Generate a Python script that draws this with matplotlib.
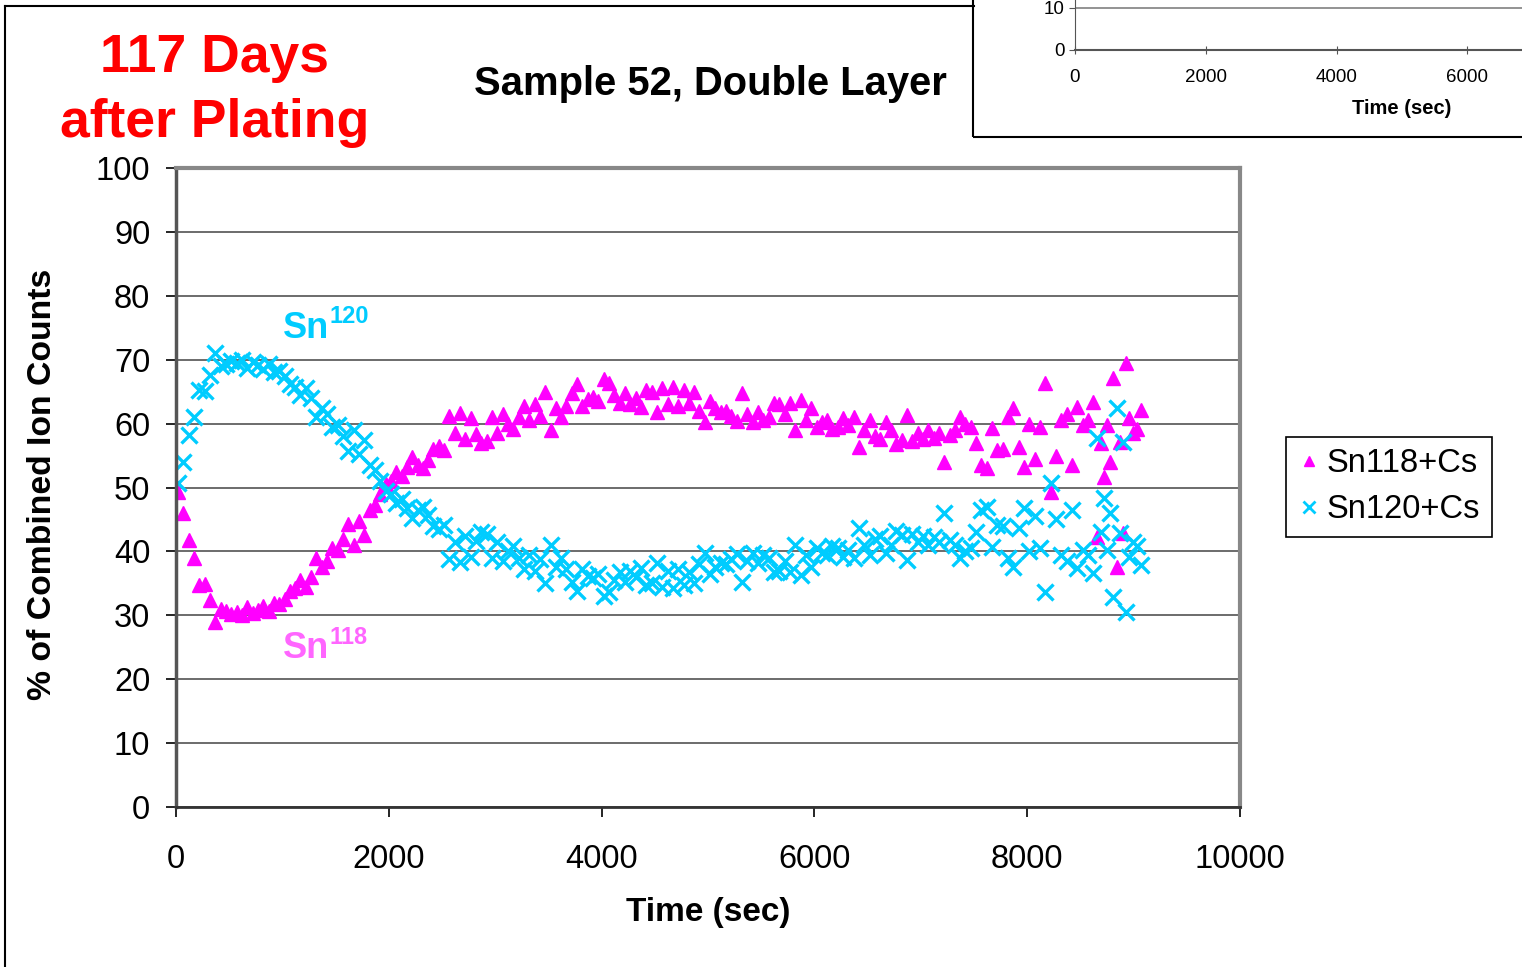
import matplotlib.pyplot as plt
from matplotlib.lines import Line2D
from matplotlib.patches import Rectangle

plt.rcParams['font.family'] = ['Liberation Sans', 'DejaVu Sans']

# time stamps (sec)
time_s = [
    20, 70, 120, 170, 220, 270, 320, 370, 420, 470,
    520, 570, 620, 670, 720, 770, 820, 870, 920, 970,
    1020, 1070, 1120, 1170, 1220, 1270, 1320, 1370, 1420, 1470,
    1520, 1570, 1620, 1670, 1720, 1770, 1820, 1870, 1920, 1970,
    2020, 2070, 2120, 2170, 2220, 2270, 2320, 2370, 2420, 2470,
    2520, 2570, 2620, 2670, 2720, 2770, 2820, 2870, 2920, 2970,
    3020, 3070, 3120, 3170, 3220, 3270, 3320, 3370, 3420, 3470,
    3520, 3570, 3620, 3670, 3720, 3770, 3820, 3870, 3920, 3970,
    4020, 4070, 4120, 4170, 4220, 4270, 4320, 4370, 4420, 4470,
    4520, 4570, 4620, 4670, 4720, 4770, 4820, 4870, 4920, 4970,
    5020, 5070, 5120, 5170, 5220, 5270, 5320, 5370, 5420, 5470,
    5520, 5570, 5620, 5670, 5720, 5770, 5820, 5870, 5920, 5970,
    6020, 6070, 6120, 6170, 6220, 6270, 6320, 6370, 6420, 6470,
    6520, 6570, 6620, 6670, 6720, 6770, 6820, 6870, 6920, 6970,
    7020, 7070, 7120, 7170, 7220, 7270, 7320, 7370, 7420, 7470,
    7520, 7570, 7620, 7670, 7720, 7770, 7820, 7870, 7920, 7970,
    8020, 8070, 8120, 8170, 8220, 8270, 8320, 8370, 8420, 8470,
    8520, 8570, 8620, 8660, 8690, 8720, 8750, 8780, 8810, 8840,
    8870, 8900, 8930, 8960, 8995, 9030, 9070,
]

# % of combined ion counts
sn118 = [
    49.3, 46.0, 41.8, 39.0, 34.8, 34.9, 32.4, 28.9, 31.0, 30.6,
    30.2, 30.5, 30.0, 31.3, 30.3, 30.8, 31.5, 30.6, 32.0, 31.8,
    32.5, 33.8, 34.2, 35.5, 34.5, 36.0, 38.9, 37.5, 38.5, 40.5,
    40.2, 42.0, 44.3, 41.0, 44.8, 42.6, 46.5, 47.2, 49.0, 50.5,
    51.0, 52.5, 51.8, 53.2, 54.8, 53.5, 53.0, 54.3, 56.0, 56.5,
    55.8, 61.2, 58.5, 61.6, 57.6, 60.8, 58.4, 57.0, 57.3, 61.0,
    58.5, 61.5, 60.0, 59.2, 61.0, 62.8, 60.6, 63.0, 61.2, 65.0,
    59.0, 62.5, 61.0, 62.8, 64.8, 66.2, 62.8, 63.8, 64.2, 63.5,
    67.0, 66.3, 64.5, 63.3, 64.8, 63.0, 64.0, 62.6, 65.2, 65.0,
    61.8, 65.5, 63.0, 65.7, 62.8, 65.3, 63.2, 65.0, 62.0, 60.3,
    63.5, 62.5, 61.8, 62.0, 61.2, 60.4, 64.8, 61.5, 60.2, 61.8,
    60.5, 61.0, 63.3, 63.0, 61.5, 63.3, 59.0, 63.7, 60.5, 62.4,
    59.5, 60.2, 60.5, 59.2, 59.5, 60.8, 59.8, 61.0, 56.3, 59.0,
    60.5, 58.0, 57.6, 60.2, 59.0, 56.8, 57.5, 61.3, 57.2, 58.5,
    57.6, 59.0, 57.8, 58.6, 54.0, 58.2, 59.0, 61.0, 60.0, 59.5,
    57.0, 53.5, 53.0, 59.3, 55.8, 56.0, 61.0, 62.4, 56.3, 53.2,
    60.0, 54.5, 59.5, 66.4, 49.3, 55.0, 60.5, 61.5, 53.5, 62.6,
    59.8, 60.5, 63.4, 42.3, 57.0, 51.6, 59.8, 54.0, 67.1, 37.6,
    57.1, 42.9, 69.5, 60.9, 58.5, 59.2, 62.1,
]

sn120 = [
    50.7, 54.0, 58.2, 61.0, 65.2, 65.1, 67.6, 71.1, 69.0, 69.4,
    69.8, 69.5, 70.0, 68.7, 69.7, 69.2, 68.5, 69.4, 68.0, 68.2,
    67.5, 66.2, 65.8, 64.5, 65.5, 64.0, 61.1, 62.5, 61.5, 59.5,
    59.8, 58.0, 55.7, 59.0, 55.2, 57.4, 53.5, 52.8, 51.0, 49.5,
    49.0, 47.5, 48.2, 46.8, 45.2, 46.5, 47.0, 45.7, 44.0, 43.5,
    44.2, 38.8, 41.5, 38.4, 42.4, 39.2, 41.6, 43.0, 42.7, 39.0,
    41.5, 38.5, 40.0, 40.8, 39.0, 37.2, 39.4, 37.0, 38.8, 35.0,
    41.0, 37.5, 39.0, 37.2, 35.2, 33.8, 37.2, 36.2, 35.8, 36.5,
    33.0, 33.7, 35.5, 36.7, 35.2, 37.0, 36.0, 37.4, 34.8, 35.0,
    38.2, 34.5, 37.0, 34.3, 37.2, 34.7, 36.8, 35.0, 38.0, 39.7,
    36.5, 37.5, 38.2, 38.0, 38.8, 39.6, 35.2, 38.5, 39.8, 38.2,
    39.5, 39.0, 36.7, 37.0, 38.5, 36.7, 41.0, 36.3, 39.5, 37.6,
    40.5, 39.8, 39.5, 40.8, 40.5, 39.2, 40.2, 39.0, 43.7, 41.0,
    39.5, 42.0, 42.4, 39.8, 41.0, 43.2, 42.5, 38.7, 42.8, 41.5,
    42.4, 41.0, 42.2, 41.4, 46.0, 41.8, 41.0, 39.0, 40.0, 40.5,
    43.0, 46.5, 47.0, 40.7, 44.2, 44.0, 39.0, 37.6, 43.7, 46.8,
    40.0, 45.5, 40.5, 33.6, 50.7, 45.0, 39.5, 38.5, 46.5, 37.4,
    40.2, 39.5, 36.6, 57.7, 43.0, 48.4, 40.2, 46.0, 32.9, 62.4,
    42.9, 57.1, 30.5, 39.1, 41.5, 40.8, 37.9,
]

# the inset only shows its lower left corner
inset_xticks = [0, 2000, 4000, 6000]
inset_yticks = [0, 10]

magenta = '#FF00FF'
cyan = '#00CCFF'

W, H = 1522, 967
fig = plt.figure(figsize=(W / 100, H / 100), dpi=100)


def fx(px):
    return px / W


def fy(py):
    return 1 - py / H


# outer frame (left and top edges)
fig.add_artist(Line2D([fx(5), fx(5)], [0, fy(6)], color='black', lw=1.5))
fig.add_artist(Line2D([fx(5), fx(974)], [fy(6), fy(6)], color='black', lw=1.5))

# --- main chart ---
ax = fig.add_axes([fx(176), fy(807), fx(1240) - fx(176), fy(168) - fy(807)])
ax.plot(time_s, sn118, ls='none', marker='^', ms=9.5, mew=1, color=magenta, mec=magenta)
ax.plot(time_s, sn120, ls='none', marker='x', ms=11, mew=2.4, color=cyan)

ax.set_xlim(0, 10000)
ax.set_ylim(0, 100)
ax.set_xticks(range(0, 10001, 2000))
ax.set_yticks(range(0, 101, 10))
ax.yaxis.grid(True, color='#444444', lw=1.1)
ax.set_axisbelow(True)
ax.tick_params(labelsize=23.5, length=7.5, width=1.2, color='black')
ax.tick_params(axis='y', pad=11)
ax.tick_params(axis='x', pad=19)
for s in ('top', 'right'):
    ax.spines[s].set_color('#888888')
    ax.spines[s].set_linewidth(3)
ax.spines['left'].set_color('#555555')
ax.spines['left'].set_linewidth(2.5)
ax.spines['bottom'].set_color('#333333')
ax.spines['bottom'].set_linewidth(2)

# Sn labels with superscripts
t120 = ax.text(1005, 73.4, 'Sn', color=cyan, fontsize=26, fontweight='bold', va='baseline')
ax.annotate('120', xy=(1, 1), xycoords=t120, xytext=(0, 4), textcoords='offset points',
            color=cyan, fontsize=17, fontweight='bold', va='top', ha='left')
t118 = ax.text(1005, 23.3, 'Sn', color='#FF66FF', fontsize=26, fontweight='bold', va='baseline')
ax.annotate('118', xy=(1, 1), xycoords=t118, xytext=(0, 4), textcoords='offset points',
            color='#FF66FF', fontsize=17, fontweight='bold', va='top', ha='left')

handles = [
    Line2D([], [], ls='none', marker='^', ms=7.5, color=magenta),
    Line2D([], [], ls='none', marker='x', ms=9, mew=2, color=cyan),
]
leg = ax.legend(handles, ['Sn118+Cs', 'Sn120+Cs'], loc='upper left',
                bbox_to_anchor=(fx(1286), fy(437)), bbox_transform=fig.transFigure,
                fontsize=23.5, frameon=True, fancybox=False, framealpha=1,
                edgecolor='black', borderpad=0.35, handlelength=0.7,
                handletextpad=0.2, labelspacing=0.45, borderaxespad=0)
leg.get_frame().set_linewidth(1.2)

fig.text(fx(43), fy(484), '% of Combined Ion Counts', rotation=90, ha='center', va='center',
         fontsize=24.3, fontweight='bold')
fig.text(fx(708), fy(913), 'Time (sec)', ha='center', va='center', fontsize=24, fontweight='bold')

fig.text(fx(710), fy(95), 'Sample 52, Double Layer', ha='center', va='baseline',
         fontsize=28.8, fontweight='bold')
fig.text(fx(215), fy(72), '117 Days', ha='center', va='baseline', color='red',
         fontsize=38.5, fontweight='bold')
fig.text(fx(215), fy(137), 'after Plating', ha='center', va='baseline', color='red',
         fontsize=38.5, fontweight='bold')

# --- inset chart, cut off by the page edge ---
fig.add_artist(Rectangle((fx(973), fy(137)), 0.5, 0.5, transform=fig.transFigure,
                         fill=False, edgecolor='black', lw=1.5))
ins = fig.add_axes([fx(1075), fy(50), 654 / W, 420 / H])
ins.set_xlim(0, 10000)
ins.set_ylim(0, 100)
ins.set_xticks(inset_xticks)
ins.set_yticks(inset_yticks)
ins.yaxis.grid(True, color='#808080', lw=1.2)
ins.tick_params(labelsize=13.5, length=4, color='#555555')
ins.tick_params(axis='x', direction='inout', length=6, pad=11)
for s in ('top', 'right'):
    ins.spines[s].set_visible(False)
ins.spines['left'].set_color('#555555')
ins.spines['bottom'].set_color('#555555')
ins.spines['bottom'].set_linewidth(1.5)
ins.set_xlabel('Time (sec)', fontsize=14.5, fontweight='bold', labelpad=9)

fig.savefig('out.png', dpi=100)
